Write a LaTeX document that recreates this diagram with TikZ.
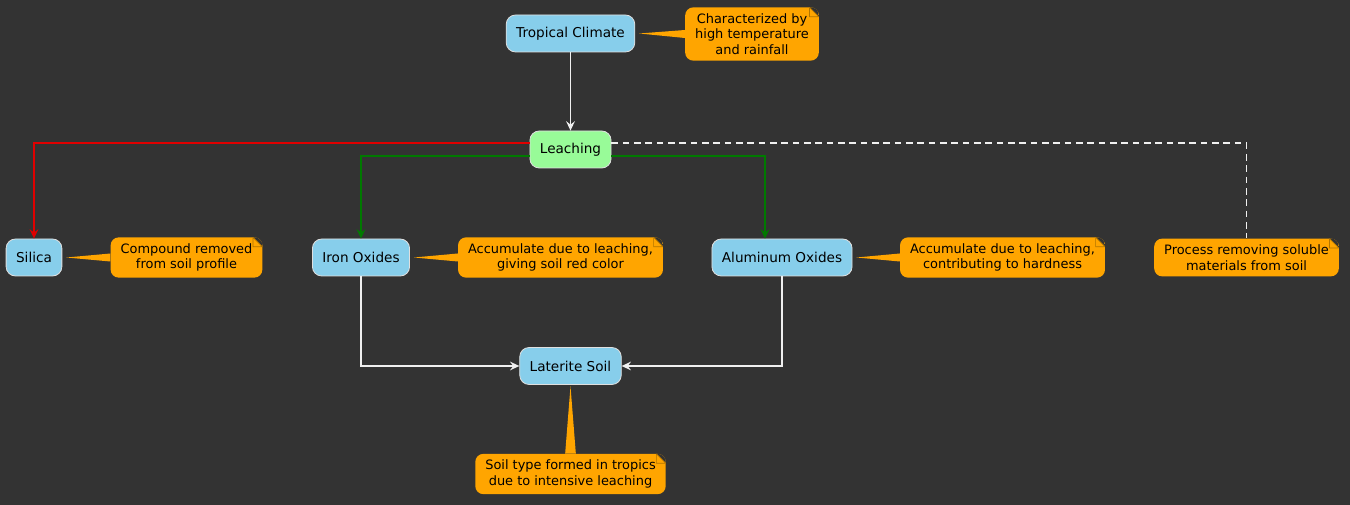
\documentclass[tikz,border=0pt]{standalone}
\usepackage{fontspec}
\setmainfont{DejaVu Sans}
\usetikzlibrary{arrows.meta}

\definecolor{bgdark}{HTML}{333333}
\definecolor{skyfill}{HTML}{87CEEB}
\definecolor{leachfill}{HTML}{98FB98}
\definecolor{noteorange}{HTML}{FFA500}
\definecolor{foldedge}{HTML}{B07400}
\definecolor{greenline}{HTML}{007A00}
\definecolor{redline}{HTML}{E00000}
\definecolor{flowline}{HTML}{F0F0F0}

\begin{document}
\begin{tikzpicture}[x=0.75pt,y=-0.75pt,>={Stealth[length=7pt,width=6.5pt,inset=2.5pt]},
        box/.style={draw=white!75!gray,line width=0.6pt,fill=skyfill,rounded corners=7pt,
          minimum height=27.75pt,inner xsep=7.5pt,font=\fontsize{10.2}{12}\selectfont},
        notebox/.style={fill=noteorange,rounded corners=6pt,align=center,inner xsep=7.5pt,inner ysep=4.6pt,
          font=\fontsize{9.7}{11.6}\selectfont,
          path picture={
            \fill[bgdark,sharp corners] ([xshift=-7pt]path picture bounding box.north east)
              -- (path picture bounding box.north east) -- ([yshift=-7pt]path picture bounding box.north east) -- cycle;
            \draw[foldedge,fill=noteorange,line width=0.5pt,sharp corners] ([xshift=-7pt]path picture bounding box.north east)
              -- ([xshift=-7pt,yshift=-7pt]path picture bounding box.north east) -- ([yshift=-7pt]path picture bounding box.north east) -- cycle;}},
        tail/.style={fill=noteorange},
        flow/.style={->,line width=1.1pt,draw=flowline}]

  \fill[bgdark] (0,0) rectangle (1350,505);

  \node[box] (clim)                   at (570.5,33.5) {Tropical Climate};
  \node[box,fill=leachfill] (leach)   at (570.5,149.5) {Leaching};
  \node[box] (sil)                    at (34,257.5)  {Silica};
  \node[box] (iron)                   at (361,257.5) {Iron Oxides};
  \node[box] (alu)                    at (782,257.5) {Aluminum Oxides};
  \node[box] (lat)                    at (570.5,366) {Laterite Soil};

  % notes
  \node[notebox] (nclim)  at (752,34)      {Characterized by\\high temperature\\and rainfall};
  \node[notebox] (nsil)   at (186.5,257.5) {Compound removed\\from soil profile};
  \node[notebox] (niron)  at (560.5,257.5) {Accumulate due to leaching,\\giving soil red color};
  \node[notebox] (nalu)   at (1002.5,257.5) {Accumulate due to leaching,\\contributing to hardness};
  \node[notebox] (nleach) at (1246.5,257.5) {Process removing soluble\\materials from soil};
  \node[notebox] (nlat)   at (570.5,474)   {Soil type formed in tropics\\due to intensive leaching};

  \fill[tail] ([xshift=3pt]clim.east) -- ([yshift=3pt]nclim.west) -- ([yshift=-3pt]nclim.west) -- cycle;
  \fill[tail] ([xshift=3pt]sil.east) -- ([yshift=3pt]nsil.west) -- ([yshift=-3pt]nsil.west) -- cycle;
  \fill[tail] ([xshift=3pt]iron.east) -- ([yshift=3pt]niron.west) -- ([yshift=-3pt]niron.west) -- cycle;
  \fill[tail] ([xshift=3pt]alu.east) -- ([yshift=3pt]nalu.west) -- ([yshift=-3pt]nalu.west) -- cycle;
  \fill[tail] ([yshift=-1pt]lat.south) -- ([xshift=-4pt]nlat.north) -- ([xshift=4pt]nlat.north) -- cycle;

  \draw[flow] (clim) -- (leach);
  \draw[flow,draw=redline] ([yshift=4.9pt]leach.west) -| (sil.north);
  \draw[flow,draw=greenline] ([yshift=-4.9pt]leach.west) -| (iron.north);
  \draw[flow,draw=greenline] ([yshift=-4.9pt]leach.east) -| ([xshift=-12.75pt]alu.north);
  \draw[flowline,line width=1.1pt,dash pattern=on 5pt off 3.5pt] ([yshift=4.9pt]leach.east) -| (nleach.north);
  \draw[flow] (iron.south) |- (lat.west);
  \draw[flow] (alu.south) |- (lat.east);

\end{tikzpicture}
\end{document}
